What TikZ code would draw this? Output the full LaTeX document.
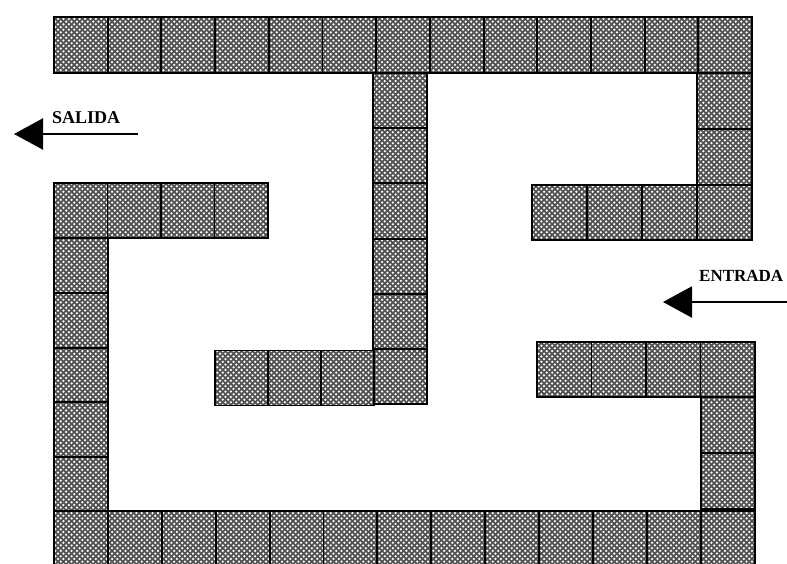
\documentclass[tikz,border=0pt]{standalone}
\usepackage{fontspec}
\setmainfont{Liberation Serif}
\usetikzlibrary{arrows.meta,patterns}
\pgfdeclarepatternformonly{wdots}{\pgfqpoint{-1pt}{-1pt}}{\pgfqpoint{6.4pt}{6.4pt}}{\pgfqpoint{5.4pt}{5.4pt}}{%
  \pgfpathcircle{\pgfqpoint{1.35pt}{1.35pt}}{1.25pt}%
  \pgfpathcircle{\pgfqpoint{4.05pt}{4.05pt}}{1.25pt}%
  \pgfusepath{fill}}
\tikzset{
  tile/.style={rectangle, inner sep=0pt, outer sep=0pt, draw=black, line width=1.9pt,
    preaction={fill=black!68}, pattern=wdots, pattern color=white},
  lbl/.style={font=\bfseries\fontsize{18}{20}\selectfont, inner sep=0pt},
  arr/.style={line width=2.2pt, -{Triangle[length=29pt,width=31pt]}}
}
\begin{document}
\begin{tikzpicture}[x=1pt,y=-1pt]
\useasboundingbox (0,0) rectangle (787,563);
\fill[white] (0,0) rectangle (787,563);
% top row
\foreach \k in {0,...,12}
  \node[tile, minimum width=53.7pt, minimum height=56pt] (top\k) at ({54+53.7*(\k+0.5)},45) {};
% middle column and its foot
\foreach \k in {0,...,5}
  \node[tile, minimum width=54pt, minimum height=55.2pt] (mid\k) at (400,{73+55.2*(\k+0.5)}) {};
\foreach \k in {0,1,2}
  \node[tile, minimum width=53pt, minimum height=55pt] (midb\k) at ({215+53*(\k+0.5)},378) {};
% right upper hook
\foreach \k in {0,1}
  \node[tile, minimum width=55pt, minimum height=56pt] (rt\k) at (724.5,{73+56*(\k+0.5)}) {};
\foreach \k in {0,...,3}
  \node[tile, minimum width=54.9pt, minimum height=55pt] (rtr\k) at ({532+54.9*(\k+0.5)},212.5) {};
% left row and column
\foreach \k in {0,...,3}
  \node[tile, minimum width=53.5pt, minimum height=55pt] (lr\k) at ({54+53.5*(\k+0.5)},210.5) {};
\foreach \k in {0,...,4}
  \node[tile, minimum width=54pt, minimum height=54.8pt] (lc\k) at (81,{238+54.8*(\k+0.5)}) {};
% bottom row
\foreach \k in {0,...,12}
  \node[tile, minimum width=53.9pt, minimum height=55pt] (bot\k) at ({54+53.9*(\k+0.5)},538.5) {};
% right lower hook
\foreach \k in {0,...,3}
  \node[tile, minimum width=54.5pt, minimum height=55pt] (rl\k) at ({537+54.5*(\k+0.5)},369.5) {};
\foreach \k in {0,1}
  \node[tile, minimum width=54pt, minimum height=56pt] (rlc\k) at (728,{397+56*(\k+0.5)}) {};
% SALIDA
\coordinate (salStart) at (138,134);
\coordinate (salTip) at (14,134);
\draw[arr] (salStart) -- (salTip);
\node[lbl, anchor=base west] (salida) at (52,123) {SALIDA};
% ENTRADA
\coordinate (entStart) at (800,302);
\coordinate (entTip) at (663,302);
\draw[arr] (entStart) -- (entTip);
\node[lbl, anchor=base west, font=\bfseries\fontsize{17}{19}\selectfont] (entrada) at (699,281) {ENTRADA};
\end{tikzpicture}
\end{document}
